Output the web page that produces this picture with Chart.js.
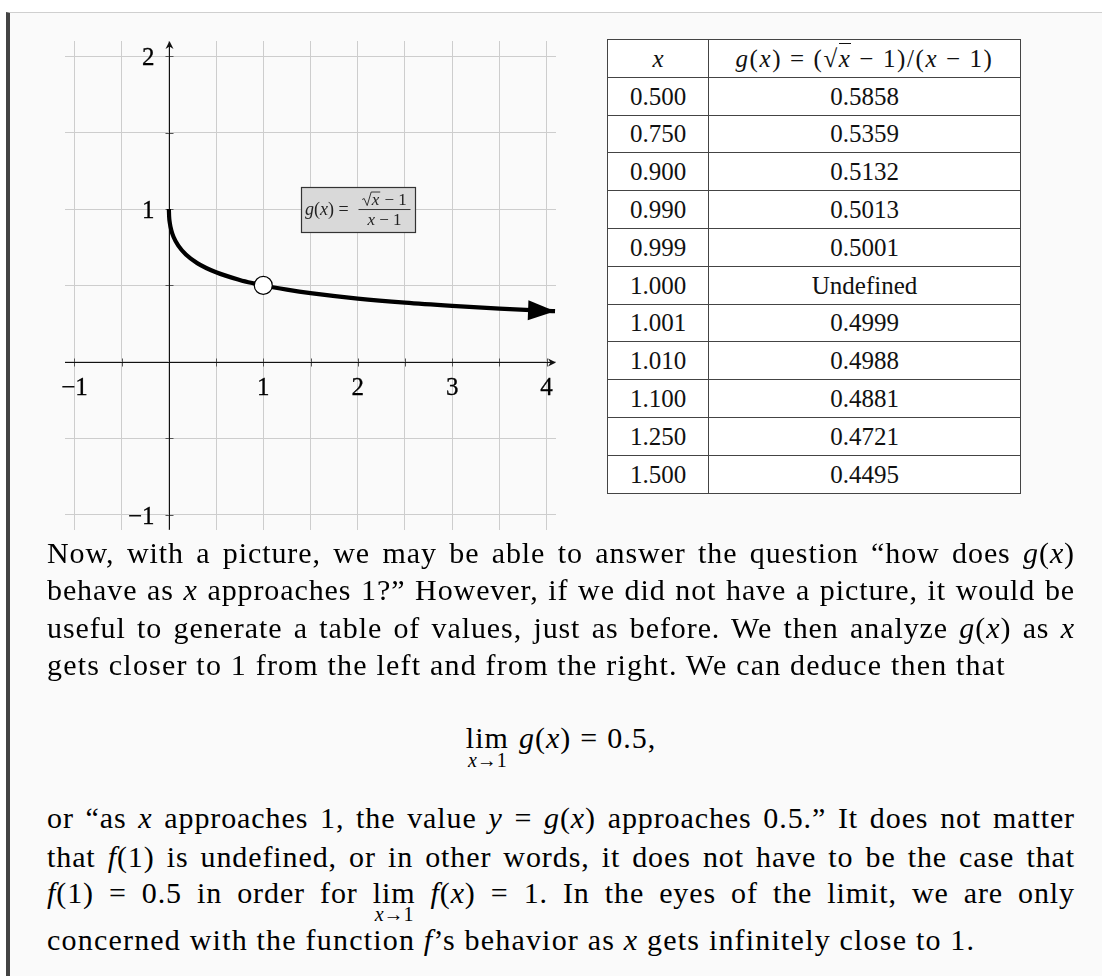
<!DOCTYPE html>
<html>
<head>
<meta charset="utf-8">
<script src="https://cdn.jsdelivr.net/npm/chart.js@4/dist/chart.umd.min.js"></script>
<style>
  html, body { margin: 0; padding: 0; background: #fff; }
  body { width: 1102px; height: 976px; position: relative; overflow: hidden;
         font-family: "Liberation Serif", "DejaVu Serif", serif; color: #000; }
  #page { position: absolute; left: 6px; top: 12px; right: 0; bottom: 0;
          background: #fafafa; border-top: 1px solid #cfcfcf; border-left: 4px solid #444; }
  #plotWrap { position: absolute; left: 0; top: 0; width: 600px; height: 540px; }
  .tick { position: absolute; font-size: 25px; line-height: 25px; white-space: nowrap; color: #000;
          -webkit-text-stroke: 0.3px #000; }
  table { position: absolute; left: 607px; top: 39px; width: 414px; border-collapse: collapse;
          background: #fff; font-size: 25px; color: #111; }
  td { border: 1px solid #444; height: 36.8px; padding: 0; text-align: center; line-height: 1; }
  td.c1 { width: 100px; }
  td.hd { letter-spacing: 1.6px; }
  i { font-style: italic; }
  .ov { border-top: 1px solid #111; padding-top: 1px; }
  .line { position: absolute; left: 47px; width: 1028px; white-space: nowrap; font-size: 30px;
          line-height: 36px; letter-spacing: 0.9px; text-align: justify; text-align-last: justify; }
  .line.last { text-align: left; text-align-last: left; letter-spacing: 1.2px; }
  .lim { position: relative; display: inline-block; }
  .lim .sub { position: absolute; left: 50%; transform: translateX(-50%); top: 29px;
              font-size: 20px; line-height: 20px; white-space: nowrap; letter-spacing: 0; }
  .display { position: absolute; left: 47px; width: 1028px; text-align: center; font-size: 30px;
             line-height: 36px; letter-spacing: 1px; white-space: nowrap; }
  .display .lim { margin-right: 10px; }
  .display .lim .sub { top: 30px; }
  .rel { margin: 0 9px; }
</style>
</head>
<body>
<div id="page"></div>
<div id="plotWrap"><canvas id="plot" width="600" height="540"></canvas></div>

<table id="values">
  <tbody id="valueRows"></tbody>
</table>

<div class="line" style="top:535px">Now, with a picture, we may be able to answer the question “how does <i>g</i>(<i>x</i>)</div>
<div class="line" style="top:572.4px">behave as <i>x</i> approaches 1?” However, if we did not have a picture, it would be</div>
<div class="line" style="top:609.7px">useful to generate a table of values, just as before. We then analyze <i>g</i>(<i>x</i>) as <i>x</i></div>
<div class="line last" style="top:647px">gets closer to 1 from the left and from the right. We can deduce then that</div>
<div class="display" style="top:720px"><span class="lim">lim<span class="sub"><i>x</i>→1</span></span><i>g</i>(<i>x</i>)<span class="rel">=</span>0.5,</div>
<div class="line" style="top:800.4px">or “as <i>x</i> approaches 1, the value <i>y</i> = <i>g</i>(<i>x</i>) approaches 0.5.” It does not matter</div>
<div class="line" style="top:838.6px">that <i>f</i>(1) is undefined, or in other words, it does not have to be the case that</div>
<div class="line" style="top:875.4px"><i>f</i>(1) = 0.5 in order for <span class="lim">lim<span class="sub"><i>x</i>→1</span></span> <i>f</i>(<i>x</i>) = 1. In the eyes of the limit, we are only</div>
<div class="line last" style="top:922px">concerned with the function <i>f</i>’s behavior as <i>x</i> gets infinitely close to 1.</div>

<script>
// Table of values of g(x) = (√x − 1)/(x − 1)
const tableX = ['0.500', '0.750', '0.900', '0.990', '0.999', '1.000', '1.001', '1.010', '1.100', '1.250', '1.500'];
const tableG = ['0.5858', '0.5359', '0.5132', '0.5013', '0.5001', 'Undefined', '0.4999', '0.4988', '0.4881', '0.4721', '0.4495'];

// Points along the plotted curve y = g(x)
const curveX = [0, 0.003, 0.01, 0.025, 0.05, 0.1, 0.18, 0.3, 0.5, 0.75, 0.9, 0.99, 1.01, 1.1, 1.25, 1.5, 2, 2.5, 3, 3.5, 4, 4.09];
const curveY = [1, 0.948, 0.909, 0.863, 0.817, 0.760, 0.702, 0.646, 0.5858, 0.5359, 0.5132, 0.5013, 0.4988, 0.4881, 0.4721, 0.4495, 0.414, 0.387, 0.366, 0.348, 0.333, 0.331];

// The excluded point (open circle)
const holeX = [1];
const holeY = [0.5];

// Grid lines and axis tick labels
const xGridValues = [-1, -0.5, 0, 0.5, 1, 1.5, 2, 2.5, 3, 3.5, 4];
const yGridValues = [-1, -0.5, 0, 0.5, 1, 1.5, 2];
const xTickValues = [-1, 1, 2, 3, 4];
const xTickLabels = ['\u22121', '1', '2', '3', '4'];
const yTickValues = [2, 1, -1];
const yTickLabels = ['2', '1', '\u22121'];

// Build the table
const head = document.createElement('tr');
head.innerHTML = '<td class="c1"><i>x</i></td><td class="hd"><i>g</i>(<i>x</i>) = (√<span class="ov"><i>x</i></span> − 1)/(<i>x</i> − 1)</td>';
const body = document.getElementById('valueRows');
body.appendChild(head);
tableX.forEach((xv, i) => {
  const tr = document.createElement('tr');
  tr.innerHTML = '<td class="c1">' + xv + '</td><td>' + tableG[i] + '</td>';
  body.appendChild(tr);
});

const SERIF = '"Liberation Serif", "DejaVu Serif", serif';

// Draw runs of [text, italic] pieces left to right; returns end x
function drawRuns(ctx, runs, x, baseline, size) {
  let cx = x;
  runs.forEach(([t, it]) => {
    ctx.font = (it ? 'italic ' : '') + size + 'px ' + SERIF;
    ctx.fillText(t, cx, baseline);
    cx += ctx.measureText(t).width;
  });
  return cx;
}
function runsWidth(ctx, runs, size) {
  let w = 0;
  runs.forEach(([t, it]) => {
    ctx.font = (it ? 'italic ' : '') + size + 'px ' + SERIF;
    w += ctx.measureText(t).width;
  });
  return w;
}

const labelAnchor = { x: 2, y: 1 };

const cartesianAxes = {
  id: 'cartesianAxes',
  beforeDatasetsDraw(chart) {
    const { ctx, chartArea: a, scales: { x, y } } = chart;
    const x0 = Math.round(x.getPixelForValue(0)) + 0.5;
    const y0 = Math.round(y.getPixelForValue(0)) + 0.5;
    ctx.save();
    ctx.lineWidth = 1;
    ctx.strokeStyle = '#555';
    ctx.beginPath();
    xGridValues.forEach(v => {
      if (v === 0) return;
      const p = Math.round(x.getPixelForValue(v)) + 0.5;
      ctx.moveTo(p, y0 - 4); ctx.lineTo(p, y0 + 4);
    });
    yGridValues.forEach(v => {
      if (v === 0) return;
      const p = Math.round(y.getPixelForValue(v)) + 0.5;
      ctx.moveTo(x0 - 4, p); ctx.lineTo(x0 + 4, p);
    });
    ctx.stroke();

    // axis lines
    ctx.strokeStyle = '#111';
    ctx.fillStyle = '#111';
    ctx.beginPath();
    ctx.moveTo(a.left, y0); ctx.lineTo(a.right - 3, y0);
    ctx.moveTo(x0, a.bottom); ctx.lineTo(x0, a.top + 3);
    ctx.stroke();
    // arrow tips
    const tx = a.right, ty = a.top;
    ctx.beginPath();
    ctx.moveTo(tx, y0); ctx.lineTo(tx - 8, y0 - 4); ctx.lineTo(tx - 5.5, y0); ctx.lineTo(tx - 8, y0 + 4); ctx.closePath();
    ctx.moveTo(x0, ty); ctx.lineTo(x0 - 4, ty + 8); ctx.lineTo(x0, ty + 5.5); ctx.lineTo(x0 + 4, ty + 8); ctx.closePath();
    ctx.fill();
    ctx.restore();
  },
  afterDatasetsDraw(chart) {
    const { ctx, scales: { x, y } } = chart;
    ctx.save();
    // arrowhead at the end of the curve
    const n = curveX.length;
    const px = x.getPixelForValue(curveX[n - 1]), py = y.getPixelForValue(curveY[n - 1]);
    const qx = x.getPixelForValue(curveX[n - 2]), qy = y.getPixelForValue(curveY[n - 2]);
    const ang = Math.atan2(py - qy, px - qx);
    ctx.translate(px, py);
    ctx.rotate(ang);
    ctx.fillStyle = '#000';
    ctx.beginPath();
    ctx.moveTo(0, 0); ctx.lineTo(-27, -10); ctx.lineTo(-27, 10); ctx.closePath();
    ctx.fill();
    ctx.setTransform(1, 0, 0, 1, 0, 0);

    // formula label box
    const cx = x.getPixelForValue(labelAnchor.x), cy = y.getPixelForValue(labelAnchor.y);
    const bw = 114, bh = 45;
    const bl = Math.round(cx - bw / 2) + 0.5, bt = Math.round(cy - bh / 2) + 0.5;
    ctx.fillStyle = '#d9d9d9';
    ctx.fillRect(bl, bt, bw, bh);
    ctx.strokeStyle = '#333';
    ctx.lineWidth = 1.2;
    ctx.strokeRect(bl, bt, bw, bh);

    ctx.fillStyle = '#222';
    ctx.strokeStyle = '#222';
    ctx.textAlign = 'left';
    ctx.textBaseline = 'alphabetic';
    const fs = 17;
    const left = [['g', true], ['(', false], ['x', true], [')', false], [' = ', false]];
    drawRuns(ctx, left, bl + 3.5, cy + 6, 18);
    const barL = bl + 57, barR = bl + 109, barC = (barL + barR) / 2;
    ctx.lineWidth = 0.9;
    ctx.beginPath(); ctx.moveTo(barL, cy + 0.5); ctx.lineTo(barR, cy + 0.5); ctx.stroke();

    // numerator: radical sign drawn as a path, then x and " − 1"
    const nb = cy - 4.5;
    ctx.font = 'italic ' + fs + 'px ' + SERIF;
    const xW = ctx.measureText('x').width;
    ctx.font = fs + 'px ' + SERIF;
    const restW = ctx.measureText(' − 1').width;
    const rootW = 9.5;
    const nw = rootW + xW + 1 + restW;
    const ns = barC - nw / 2;
    ctx.lineWidth = 0.9;
    ctx.beginPath();
    ctx.moveTo(ns, nb - 5);
    ctx.lineTo(ns + 2, nb - 6);
    ctx.lineTo(ns + 5, nb + 1);
    ctx.lineTo(ns + 9, nb - 12.5);
    ctx.lineTo(ns + rootW + xW + 1, nb - 12.5);
    ctx.stroke();
    drawRuns(ctx, [['x', true]], ns + rootW, nb, fs);
    drawRuns(ctx, [[' − 1', false]], ns + rootW + xW + 1, nb, fs);

    const den = [['x', true], [' − 1', false]];
    const dw = runsWidth(ctx, den, fs);
    drawRuns(ctx, den, barC - dw / 2, cy + 15.5, fs);
    ctx.restore();
  }
};

const chart = new Chart(document.getElementById('plot'), {
  type: 'scatter',
  data: {
    datasets: [
      {
        label: 'hole',
        data: holeX.map((v, i) => ({ x: v, y: holeY[i] })),
        pointRadius: 9,
        pointBackgroundColor: '#fff',
        pointBorderColor: '#000',
        pointBorderWidth: 1.2,
        showLine: false,
        order: 0
      },
      {
        label: 'g',
        data: curveX.map((v, i) => ({ x: v, y: curveY[i] })),
        showLine: true,
        borderColor: '#000',
        borderWidth: 4.2,
        pointRadius: 0,
        cubicInterpolationMode: 'monotone',
        order: 1
      }
    ]
  },
  options: {
    responsive: false,
    devicePixelRatio: 1,
    animation: false,
    events: [],
    layout: { padding: { left: 65, top: 41, right: 44, bottom: 8 } },
    plugins: { legend: { display: false }, tooltip: { enabled: false } },
    scales: {
      x: {
        type: 'linear', min: -1.1, max: 4.1,
        ticks: { display: false },
        border: { display: false },
        grid: { color: '#cdcdcd', lineWidth: 1, drawTicks: false },
        afterBuildTicks: s => { s.ticks = xGridValues.map(v => ({ value: v })); },
        afterFit: s => { s.height = 0; }
      },
      y: {
        type: 'linear', min: -1.1, max: 2.1,
        ticks: { display: false },
        border: { display: false },
        grid: { color: '#cdcdcd', lineWidth: 1, drawTicks: false },
        afterBuildTicks: s => { s.ticks = yGridValues.map(v => ({ value: v })); },
        afterFit: s => { s.width = 0; }
      }
    }
  },
  plugins: [cartesianAxes]
});

// Axis tick labels placed as text from the chart's scale positions
(function placeTickLabels() {
  const wrap = document.getElementById('plotWrap');
  const sx = chart.scales.x, sy = chart.scales.y;
  const x0 = Math.round(sx.getPixelForValue(0)) + 0.5;
  const y0 = Math.round(sy.getPixelForValue(0)) + 0.5;
  const baseOff = 20.9; // baseline offset inside a 25px line box
  xTickValues.forEach((v, i) => {
    const d = document.createElement('div');
    d.className = 'tick';
    d.textContent = xTickLabels[i];
    d.style.left = sx.getPixelForValue(v) + 'px';
    d.style.top = (y0 + 32.5 - baseOff) + 'px';
    d.style.transform = 'translateX(-50%)';
    wrap.appendChild(d);
  });
  yTickValues.forEach((v, i) => {
    const d = document.createElement('div');
    d.className = 'tick';
    d.textContent = yTickLabels[i];
    d.style.left = (x0 - 15) + 'px';
    d.style.top = (sy.getPixelForValue(v) + 9 - baseOff) + 'px';
    d.style.transform = 'translateX(-100%)';
    wrap.appendChild(d);
  });
})();
</script>
</body>
</html>
